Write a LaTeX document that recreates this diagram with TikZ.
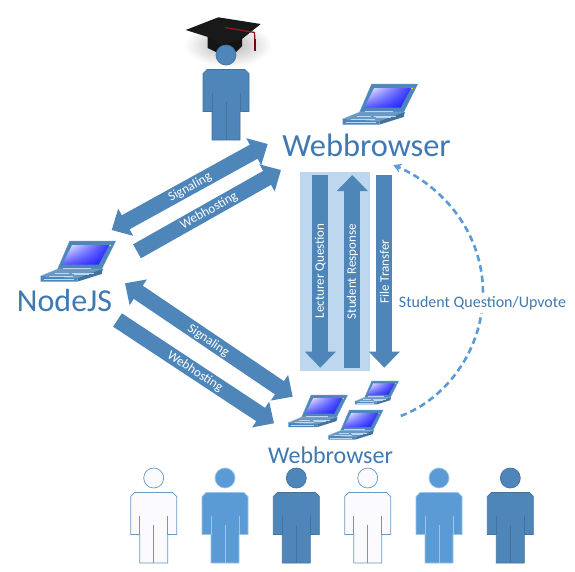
\documentclass[tikz,border=0pt]{standalone}
\usepackage{fontspec}
\setmainfont{Carlito}
\usetikzlibrary{arrows.meta,calc,shadings}
\definecolor{dk}{HTML}{4F86B9}
\definecolor{md}{HTML}{5B9BD5}
\definecolor{lt}{HTML}{BDD7EE}
\definecolor{tx}{HTML}{3F79B2}
\tikzset{
 block/.style={draw=dk,fill=dk,line width=16pt},
 onearrow/.style={block,-{Triangle[width=30pt,length=16pt,fill=dk]}},
 twoarrow/.style={block,{Triangle[width=30pt,length=16pt,fill=dk]}-{Triangle[width=30pt,length=16pt,fill=dk]}},
 revarrow/.style={block,{Triangle[width=30pt,length=16pt,fill=dk]}-},
 inlabel/.style={text=white,font=\fontsize{13}{14}\selectfont,inner sep=0pt},
 biglabel/.style={text=tx,font=\fontsize{32.4}{36}\selectfont,inner sep=0pt},
 nodelabel/.style={text=tx,font=\fontsize{32}{36}\selectfont,inner sep=0pt},
 midlabel/.style={text=tx,font=\fontsize{24}{26}\selectfont,inner sep=0pt},
 dashlabel/.style={text=tx,fill=white,font=\fontsize{16}{18}\selectfont,inner xsep=1pt,inner ysep=3pt},
}
\newcommand{\laptop}[4]{%
 \begin{scope}[shift={(#1,#2)},scale=#3]
  \coordinate (#4) at (37,20);
  \filldraw[fill=dk,draw=md,line width=0.5pt] (29,0)--(75,0)--(61,28)--(17,28)--cycle;
  \shade[shading=bilinear interpolation,upper left=white,upper right=blue!80,lower left=blue!65,lower right=blue!92] (31.5,4)--(68.5,4)--(58,23.5)--(21.5,23.5)--cycle;
  \fill[yellow!80!orange] (69.5,4.5) circle (1);
  \filldraw[fill=dk!85!white,draw=md!70!white,line width=0.4pt] (0,35)--(17,28)--(62,28)--(62,29)--(37,37)--cycle;
  \fill[fill=dk] (0,35)--(37,37)--(37,40.5)--(0,40.5)--cycle;
  \fill[fill=dk!85!black] (37,37)--(62,28)--(61,33)--(37,40.5)--cycle;
  \draw[lt,line width=0.5pt] (22,27)--(50,27) (14,32)--(28,32) (31,32)--(53,32) (8,35)--(32,35) (33,33.5)--(48,33.5) (3,38.5)--(33,38.5);
 \end{scope}}
\newcommand{\person}[5]{%
 \begin{scope}[shift={(#1,#2)}]
  \coordinate (#5) at (0,35);
  \draw[fill=#3,draw=#4,line width=0.7pt] (0,0) circle (10);
  \draw[fill=#3,draw=#4,line width=0.7pt] (-19,14.5)--(19,14.5)--(23,18.5)--(23,56.5)--(14,56.5)--(14,85)--(-14,85)--(-14,56.5)--(-23,56.5)--(-23,18.5)--cycle;
  \draw[#4,line width=0.7pt] (-14,37.5)--(-14,56.5) (14,37.5)--(14,56.5) (0,47)--(0,85);
 \end{scope}}
\begin{document}
\begin{tikzpicture}[x=1pt,y=-1pt]
\fill[white] (0,0) rectangle (575,571);
\useasboundingbox (0,0) rectangle (575,571);

% graduate cap
\shade[inner color=black!30,outer color=white] (228,45) ellipse (44pt and 22pt);
\fill[black!92] (207.7,36)--(207.7,48)--(216,52)--(236,52)--(242,46)--(242,34)--cycle;
\fill[black!90] (185.7,30)--(218.3,17.3)--(260.7,24)--(242,39)--(222,45)--(208,37)--cycle;
\draw[red!50!black!90,line width=1.3pt] (225,27.5)--(254.5,32.5)--(255,46);
\draw[red!50!black,line width=2.2pt] (255,39)--(255,51);

% people
\person{226}{55}{dk}{dk!85!black}{teacher}
\person{153.7}{478}{blue!2}{dk!85!white}{s1}
\person{225}{478}{md}{md!60!white}{s2}
\person{296.3}{478}{dk}{dk!85!black}{s3}
\person{367.7}{478}{blue!2}{dk!85!white}{s4}
\person{439}{478}{md}{md!60!white}{s5}
\person{510.3}{478}{dk}{dk!85!black}{s6}

% laptops
\laptop{342.7}{84}{1}{lapA}
\laptop{40.7}{241}{1}{lapB}
\laptop{288.3}{395}{0.79}{lapC}
\laptop{355}{381}{0.58}{lapD}
\laptop{328.3}{410}{0.73}{lapE}

% titles
\node[biglabel,anchor=center] (wb1) at (366.5,145) {Webbrowser};
\node[nodelabel,anchor=center] (nodejs) at (64.5,300) {NodeJS};
\node[midlabel,anchor=center] (wb2) at (330.5,455) {Webbrowser};

% diagonal block arrows
\coordinate (a1s) at (111.7,230); \coordinate (a1e) at (267.7,144);
\coordinate (a2s) at (137,251.3); \coordinate (a2e) at (281,170);
\coordinate (a3s) at (125,283.3); \coordinate (a3e) at (292.7,396.7);
\coordinate (a4s) at (117.5,320); \coordinate (a4e) at (274,423.3);
\draw[twoarrow] (a1s)--(a1e);
\draw[onearrow] (a2s)--(a2e);
\draw[twoarrow] (a3s)--(a3e);
\draw[onearrow] (a4s)--(a4e);
\node[inlabel,rotate=29] (l1) at (190,187.3) {Signaling};
\node[inlabel,rotate=29] (l2) at (209,211) {Webhosting};
\node[inlabel,rotate=-34] (l3) at (208.3,340.7) {Signaling};
\node[inlabel,rotate=-33] (l4) at (195,371.7) {Webhosting};

% central panel and vertical arrows
\fill[lt] (300,172.3) rectangle (370,370.7);
\coordinate (v1t) at (320.3,175); \coordinate (v1b) at (320.3,367.7);
\coordinate (v2t) at (352.3,175); \coordinate (v2b) at (352.3,367.7);
\coordinate (v3t) at (384.3,175); \coordinate (v3b) at (384.3,367.7);
\draw[onearrow] (v1t)--(v1b);
\draw[revarrow] (v2t)--(v2b);
\draw[onearrow] (v3t)--(v3b);
\node[inlabel,rotate=90] (q1) at (320.3,271) {Lecturer Question};
\node[inlabel,rotate=90] (q2) at (352.3,271.7) {Student Response};
\node[inlabel,rotate=90] (q3) at (384.3,271.7) {File Transfer};

% dashed feedback curve
\coordinate (ds) at (400.7,416); \coordinate (dm) at (483,293); \coordinate (de) at (393.3,165);
\draw[md,line width=2.6pt,dash pattern=on 6.5pt off 4pt,-{Stealth[length=8pt,width=9pt,fill=md]}]
  (ds) .. controls (446,399) and (483,350) .. (dm) .. controls (483,232) and (442,186) .. (de);
\node[dashlabel] (ql) at (482.5,303) {Student Question/Upvote};
\end{tikzpicture}
\end{document}
